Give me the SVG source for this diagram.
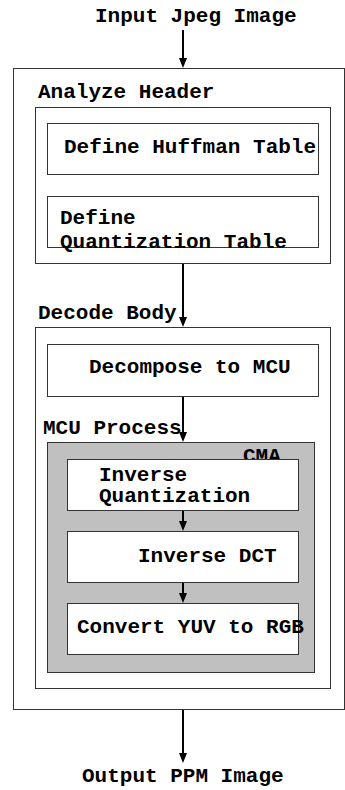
<svg xmlns="http://www.w3.org/2000/svg" width="345" height="790" viewBox="0 0 345 790">
<style>
text{font-family:"Liberation Mono","Courier New",monospace;font-weight:bold;font-size:21px;fill:#000}
.box{fill:#fff;stroke:#333;stroke-width:1}
.gray{fill:#c0c0c0;stroke:#333;stroke-width:1}
.conn{stroke:#000;stroke-width:2;fill:none}
.head{fill:#000}
</style>
<defs>
<path id="ah" class="head" d="M-4,-10 L4,-10 L0,0 Z"/>
</defs>
<g id="input"><text x="95" y="22">Input Jpeg Image</text></g>
<g id="outer"><rect class="box" x="13.5" y="68.5" width="331" height="641"/></g>
<g id="header">
<rect class="box" x="35.5" y="107.5" width="295" height="156"/>
<text x="38" y="98">Analyze Header</text>
</g>
<g id="huffman">
<rect class="box" x="47.5" y="123.5" width="271" height="51"/>
<text x="64" y="153">Define Huffman Table</text>
</g>
<g id="quant">
<rect class="box" x="47.5" y="196.5" width="271" height="51"/>
<text x="60" y="224">Define</text>
<text x="60" y="248">Quantization Table</text>
</g>
<g id="body">
<rect class="box" x="35.5" y="327.5" width="295" height="361"/>
<text x="38" y="319">Decode Body</text>
</g>
<g id="decompose">
<rect class="box" x="47.5" y="344.5" width="271" height="52"/>
<text x="89" y="373">Decompose to MCU</text>
</g>
<g id="mcu">
<text x="43" y="434">MCU Process</text>
<rect class="gray" x="47.5" y="442.5" width="267" height="230"/>
<text x="243" y="462">CMA</text>
</g>
<g id="iquant">
<rect class="box" x="67.5" y="459.5" width="231" height="51"/>
<text x="99" y="481">Inverse</text>
<text x="99" y="502">Quantization</text>
</g>
<g id="idct">
<rect class="box" x="67.5" y="531.5" width="231" height="51"/>
<text x="138" y="562">Inverse DCT</text>
</g>
<g id="convert">
<rect class="box" x="67.5" y="603.5" width="231" height="51"/>
<text x="77" y="633">Convert YUV to RGB</text>
</g>
<g id="output"><text x="82" y="782">Output PPM Image</text></g>
<g id="connectors">
<path class="conn" d="M183,30 V60"/><use href="#ah" x="183" y="68"/>
<path class="conn" d="M183,264 V319"/><use href="#ah" x="183" y="327"/>
<path class="conn" d="M183,397 V434"/><use href="#ah" x="183" y="442"/>
<path class="conn" d="M183,511 V523"/><use href="#ah" x="183" y="531"/>
<path class="conn" d="M183,583 V595"/><use href="#ah" x="183" y="603"/>
<path class="conn" d="M183,710 V755"/><use href="#ah" x="183" y="763"/>
</g>
</svg>
